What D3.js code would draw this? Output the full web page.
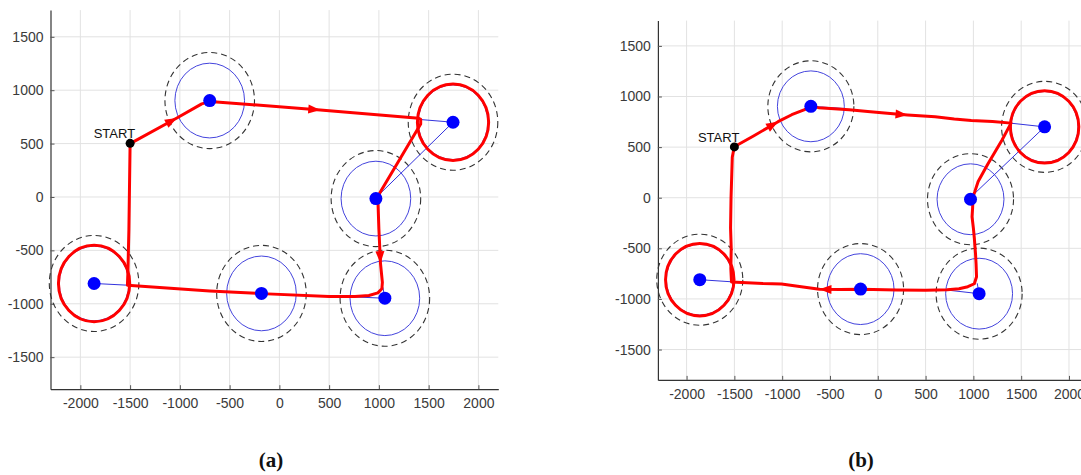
<!DOCTYPE html>
<html>
<head>
<meta charset="utf-8">
<script src="https://cdn.jsdelivr.net/npm/d3@7"></script>
<style>
  body { margin: 0; background: #fff; }
  svg { display: block; font-family: "Liberation Sans", Arial, sans-serif; }
</style>
</head>
<body>
<div id="chart"></div>
<script>
// Axis ticks (shared by both panels)
const xTicks = [-2000, -1500, -1000, -500, 0, 500, 1000, 1500, 2000];
const yTicks = [-1500, -1000, -500, 0, 500, 1000, 1500];
const xDomain = [-2300, 2200];
const yDomain = [-1800, 1750];

// Waypoints (blue dots) and start
const waypointX = [-700, 1745, 970, 1060, -180, -1862];
const waypointY = [903, 700, -15, -948, -903, -810];
const startPoint = [-1500, 502];
const loopWaypoints = [1, 5]; // waypoints circled by the red path
const innerRadius = 350;
const outerRadius = 450;
const loopRadius = 358;

// (a) simulated path
const pathA = [
  [-1500, 500], [-1030, 740], [-780, 872], [-700, 893], [-600, 888],
  [411, 815], [1400, 737], [1420, 727], [1420, 683], [1010, 40],
  [990, -20], [1000, -300], [1016, -621], [1035, -800], [1030, -860],
  [990, -898], [900, -922], [760, -932], [500, -933], [-180, -905],
  [-700, -880], [-1527, -826], [-1522, -700], [-1512, -300], [-1500, 500]
];
const arrowIdxA = [1, 5, 12];
const linksA = [
  [[1745, 700], [1420, 725]],
  [[1745, 700], [1000, 20]],
  [[1060, -948], [720, -935]],
  [[1060, -948], [1040, -845]],
  [[-1862, -810], [-1525, -826]]
];

// (b) experimental path
const pathB = [
  [-1501, 504], [-1300, 610], [-1043, 751], [-900, 820], [-772, 867],
  [-692, 902], [-620, 890], [-538, 885], [-300, 868], [-105, 852],
  [100, 835], [311, 818], [600, 800], [800, 778], [978, 763],
  [1200, 752], [1394, 737], [1300, 570], [1150, 330], [1050, 160],
  [1015, 60], [996, 10], [992, -100], [986, -188], [1000, -300],
  [1010, -400], [1022, -549], [1028, -650], [1033, -781], [1010, -850],
  [942, -879], [850, -900], [726, -910], [500, -915], [200, -912],
  [-177, -905], [-400, -908], [-610, -905], [-800, -880], [-1007, -853],
  [-1200, -848], [-1368, -840], [-1530, -832], [-1537, -700], [-1533, -500],
  [-1540, -300], [-1535, 0], [-1530, 150], [-1522, 400], [-1501, 504]
];
const arrowIdxB = [2, 11, 37];
const linksB = [
  [[-700, 903], [-360, 882]],
  [[1745, 700], [1396, 736]],
  [[1745, 700], [1000, 30]],
  [[1060, -948], [721, -912]],
  [[1060, -948], [1040, -845]],
  [[-1862, -810], [-1539, -830]]
];

const svg = d3.select("#chart")
  .append("svg")
  .attr("width", 1081)
  .attr("height", 475);

function drawPanel(p) {
  const x = d3.scaleLinear().domain(xDomain).range([p.left, p.right]);
  const y = d3.scaleLinear().domain(yDomain).range([p.bottom, p.top]);
  const g = svg.append("g");

  // grid
  g.selectAll(".gx").data(xTicks).enter().append("line")
    .attr("x1", d => x(d)).attr("x2", d => x(d))
    .attr("y1", y(yDomain[0])).attr("y2", y(yDomain[1]))
    .attr("stroke", "#e2e2e2").attr("stroke-width", 1);
  g.selectAll(".gy").data(yTicks).enter().append("line")
    .attr("x1", x(xDomain[0])).attr("x2", x(xDomain[1]))
    .attr("y1", d => y(d)).attr("y2", d => y(d))
    .attr("stroke", "#e2e2e2").attr("stroke-width", 1);

  // axes (plain hyphen minus, no thousands separator)
  const fmt = d => String(d);
  const xAxis = d3.axisBottom(x).tickValues(xTicks).tickFormat(fmt)
    .tickSizeInner(-4).tickSizeOuter(0).tickPadding(9);
  const yAxis = d3.axisLeft(y).tickValues(yTicks).tickFormat(fmt)
    .tickSizeInner(-4).tickSizeOuter(0).tickPadding(7);
  const ax = g.append("g").attr("transform", `translate(0, ${p.bottom})`).call(xAxis);
  const ay = g.append("g").attr("transform", `translate(${p.left}, 0)`).call(yAxis);
  [ax, ay].forEach(a => {
    a.select(".domain").attr("stroke", "#333").attr("stroke-width", 1.2);
    a.selectAll(".tick line").attr("stroke", "#555");
    a.selectAll("text").attr("fill", "#3a3a3a")
      .style("font-size", "14px")
      .style("font-family", "'Liberation Sans', Arial, sans-serif");
  });

  const rx = r => x(r) - x(0);
  const ry = r => y(0) - y(r);
  const idx = d3.range(waypointX.length);

  // dashed outer circles
  g.selectAll(".outer").data(idx).enter().append("ellipse")
    .attr("cx", i => x(waypointX[i])).attr("cy", i => y(waypointY[i]))
    .attr("rx", rx(outerRadius)).attr("ry", ry(outerRadius))
    .attr("fill", "none").attr("stroke", "#333")
    .attr("stroke-width", 1.1).attr("stroke-dasharray", "6,4");

  // blue inner circles
  g.selectAll(".inner").data(idx).enter().append("ellipse")
    .attr("cx", i => x(waypointX[i])).attr("cy", i => y(waypointY[i]))
    .attr("rx", rx(innerRadius)).attr("ry", ry(innerRadius))
    .attr("fill", "none").attr("stroke", "#4444dd").attr("stroke-width", 1);

  // blue link lines
  g.selectAll(".link").data(p.links).enter().append("line")
    .attr("x1", d => x(d[0][0])).attr("y1", d => y(d[0][1]))
    .attr("x2", d => x(d[1][0])).attr("y2", d => y(d[1][1]))
    .attr("stroke", "#3333dd").attr("stroke-width", 1);

  // red loops
  g.selectAll(".loop").data(loopWaypoints).enter().append("ellipse")
    .attr("cx", i => x(waypointX[i])).attr("cy", i => y(waypointY[i]))
    .attr("rx", rx(loopRadius)).attr("ry", ry(loopRadius))
    .attr("fill", "none").attr("stroke", "#ff0000").attr("stroke-width", 3);

  // red path
  const line = d3.line().x(d => x(d[0])).y(d => y(d[1]));
  g.append("path").datum(p.path)
    .attr("d", line)
    .attr("fill", "none").attr("stroke", "#ff0000")
    .attr("stroke-width", 3).attr("stroke-linejoin", "round");

  // arrowheads
  g.selectAll(".arrow").data(p.arrows).enter().append("path")
    .attr("d", i => {
      const tx = x(p.path[i][0]), ty = y(p.path[i][1]);
      const a = Math.atan2(ty - y(p.path[i - 1][1]), tx - x(p.path[i - 1][0]));
      const L = 12, W = 4.5;
      const bx = tx - L * Math.cos(a), by = ty - L * Math.sin(a);
      return `M${tx},${ty}L${bx - W * Math.sin(a)},${by + W * Math.cos(a)}` +
        `L${bx + W * Math.sin(a)},${by - W * Math.cos(a)}Z`;
    })
    .attr("fill", "#ff0000");

  // waypoint dots
  g.selectAll(".dot").data(idx).enter().append("circle")
    .attr("cx", i => x(waypointX[i])).attr("cy", i => y(waypointY[i]))
    .attr("r", 6.5).attr("fill", "#0000ff");

  // start
  g.append("circle")
    .attr("cx", x(startPoint[0])).attr("cy", y(startPoint[1]))
    .attr("r", 4.5).attr("fill", "#000");
  g.append("text")
    .attr("x", x(startPoint[0]) + 5).attr("y", y(startPoint[1]) - 5)
    .attr("text-anchor", "end")
    .style("font-size", "13px").attr("fill", "#111")
    .text("START");

  // caption
  g.append("text")
    .attr("x", p.captionX).attr("y", 467)
    .attr("text-anchor", "middle")
    .style("font-family", "'Liberation Serif', 'Times New Roman', serif")
    .style("font-weight", "bold").style("font-size", "21px")
    .attr("fill", "#111")
    .text(p.caption);
}

drawPanel({ left: 50.5, right: 498.3, top: 10.1, bottom: 389.2,
  path: pathA, arrows: arrowIdxA, links: linksA, caption: "(a)", captionX: 271 });
drawPanel({ left: 657.9, right: 1088.1, top: 20.6, bottom: 379.9,
  path: pathB, arrows: arrowIdxB, links: linksB, caption: "(b)", captionX: 861 });
</script>
</body>
</html>
